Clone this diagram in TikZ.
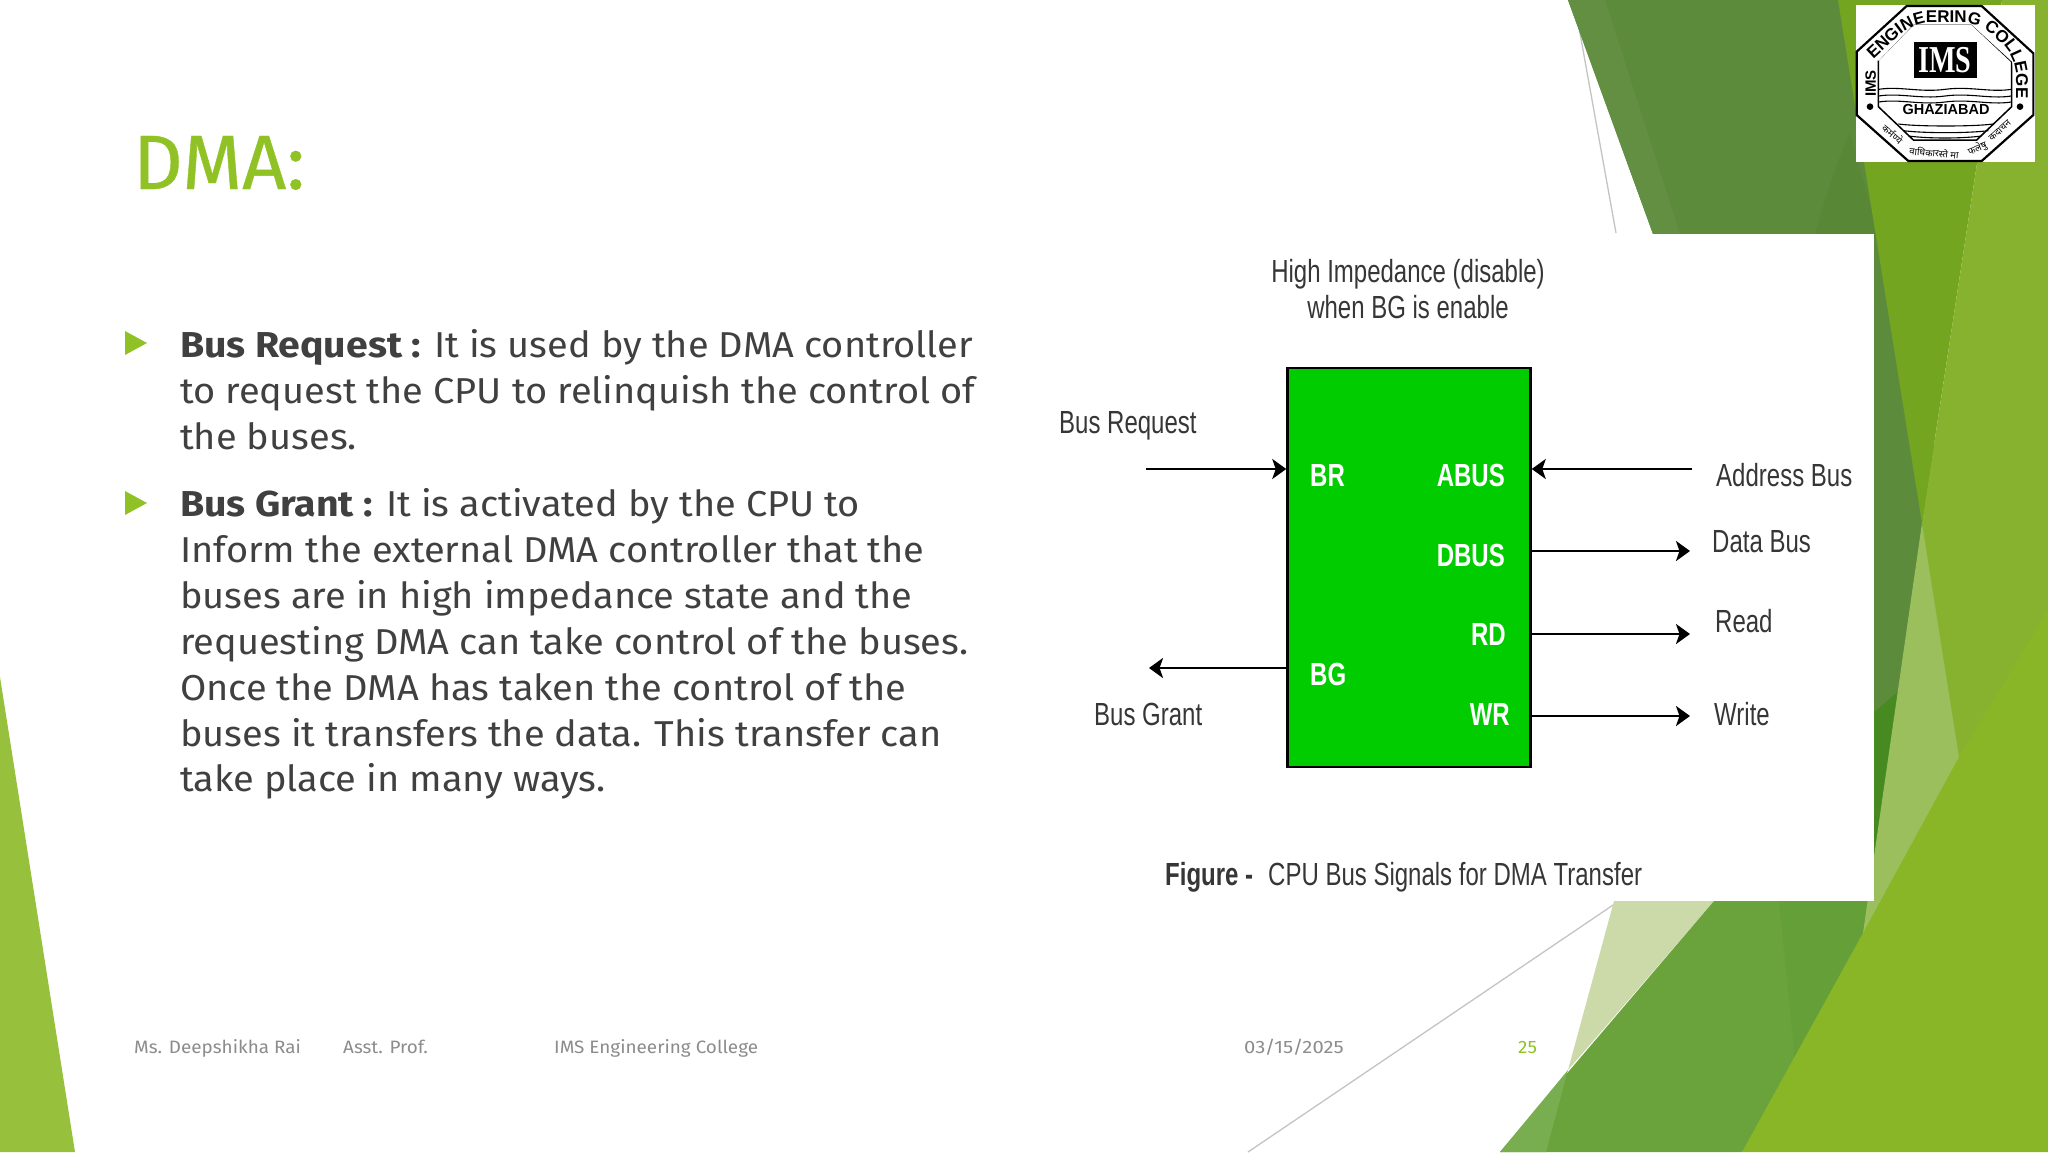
\documentclass[tikz,border=0pt]{standalone}
\usepackage{fontspec}
\usetikzlibrary{arrows.meta,decorations.text}
\setmainfont[FakeStretch=1.055,BoldFeatures={FakeStretch=1.09}]{Fira Sans}
\newfontfamily\ttlf[FakeBold=0.5]{Fira Sans}
\newfontfamily\datef[FakeStretch=1.13]{Fira Sans}
\newfontfamily\figf[FakeStretch=0.75]{Liberation Sans}
\newfontfamily\logof{Liberation Sans}
\newfontfamily\imsf[FakeStretch=0.74]{Liberation Serif}
\newfontfamily\devf[Script=Devanagari]{Noto Sans}
\definecolor{accent}{HTML}{90C226}
\definecolor{ink}{HTML}{404040}
\definecolor{foot}{HTML}{8C8C8C}
\definecolor{figink}{HTML}{363636}
\definecolor{leftg}{HTML}{97C13D}
\definecolor{topdark}{HTML}{5D8B3C}
\definecolor{topdarker}{HTML}{588836}
\definecolor{toplight}{HTML}{628F42}
\definecolor{stripdark}{HTML}{488A22}
\definecolor{olive}{HTML}{74A520}
\definecolor{bright}{HTML}{87B22F}
\definecolor{brightest}{HTML}{89B626}
\definecolor{palemid}{HTML}{9ABF5C}
\definecolor{midg}{HTML}{6AA23C}
\definecolor{midgd}{HTML}{659F37}
\definecolor{paleg}{HTML}{CCDAA9}
\definecolor{stripl}{HTML}{78AE50}
\definecolor{hair}{HTML}{C4C4C4}
\definecolor{boxg}{HTML}{00CC00}
\tikzset{
  txt/.style={anchor=base west,inner sep=0pt,text=ink,font=\fontsize{36}{46}\selectfont},
  ttl/.style={anchor=base west,inner sep=0pt,text=accent,font=\ttlf\fontsize{77}{90}\selectfont},
  ftr/.style={anchor=base west,inner sep=0pt,text=foot,font=\fontsize{17.9}{22}\selectfont},
  lab/.style={anchor=base west,inner sep=0pt,text=figink,font=\figf\fontsize{32}{36}\selectfont},
  sig/.style={anchor=base west,inner sep=0pt,text=white,font=\figf\bfseries\fontsize{32}{36}\selectfont},
  bul/.style={fill=accent,draw=none},
  wire/.style={draw=black,line width=2.6pt,-{Stealth[length=14pt,width=20pt,inset=3.5pt]}},
  logotx/.style={inner sep=0pt,text=black,font=\logof\bfseries\fontsize{17}{20}\selectfont},
  logoln/.style={draw=black,line width=1.1pt},
  hindi/.style={inner sep=0pt,font=\devf\bfseries\fontsize{9.5}{10}\selectfont}
}
\begin{document}
\begin{tikzpicture}[x=1pt,y=-1pt]
\useasboundingbox (0,0) rectangle (2048,1152);
\fill[white] (0,0) rectangle (2048,1152);
% left wedge
\fill[leftg] (0,677) -- (75,1152) -- (0,1152) -- cycle;
% hair lines
\draw[hair,line width=1.3pt] (1574,0) -- (1616,233);
\draw[hair,line width=1.3pt] (1619,901) -- (1248,1152);
% upper right
\fill[topdark] (1568,0) -- (1880,0) -- (1960,650) -- (1874,900) -- (1653,234) -- cycle;
\fill[toplight] (1568,0) -- (1605,0) -- (1680,234) -- (1653,234) -- cycle;
\fill[topdarker] (1850,133) -- (1880,240) -- (1815,234) .. controls (1825,200) and (1835,165) .. (1850,133) -- cycle;
\fill[stripdark] (1874,712) -- (1900,690) -- (1885,853) -- (1874,853) -- cycle;
\fill[olive] (1838,0) -- (2002,0) -- (1922,523) -- cycle;
% lower right
\fill[paleg] (1614,901) -- (1714,901) -- (1568,1070) -- cycle;
\fill[midg] (1714,901) -- (1900,901) -- (1900,1000) -- (1742,1152) -- (1500,1152) -- cycle;
\fill[midgd] (1779,901) -- (1900,901) -- (1900,940) -- (1795,1060) -- cycle;
\fill[stripl] (1568,1070) -- (1546,1152) -- (1500,1152) -- cycle;
\fill[palemid] (1922,523) -- (1970,757) -- (1890,930) -- (1863,933) -- cycle;
\fill[bright] (2002,0) -- (2048,0) -- (2048,620) -- (1959,757) -- (1922,523) -- cycle;
\fill[brightest] (2048,610) -- (2048,1152) -- (1742,1152) -- (1863,933) -- (1959,757) -- cycle;
% pasted figure
\fill[white] (1040,234) rectangle (1874,901);
% logo
\begin{scope}[shift={(1850,0)},x=0.33333pt,y=-0.33333pt]
\fill[white] (17,15) rectangle (555,485);
\draw[black,line width=2.2pt] (170,18) -- (395,18) -- (550,160) -- (550,345) -- (395,483) -- (175,483) -- (20,345) -- (20,155) -- cycle;
\draw[logoln,line width=1.5pt] (190,72) -- (365,72) -- (485,185) -- (485,320) -- (380,420) -- (190,420) -- (85,320) -- (85,180) -- cycle;
\fill[black] (192,125) rectangle (380,235);
\node[inner sep=0pt,text=white,font=\imsf\bfseries\fontsize{38}{40}\selectfont] (imsmark) at (285,181) {IMS};
\foreach \yy in {268,288,306}{
  \draw[logoln] (86,\yy) .. controls (150,\yy-10) and (210,\yy+10) .. (285,\yy) .. controls (360,\yy-10) and (420,\yy+10) .. (484,\yy);
}
\foreach \yy/\xa/\xb in {372/145/430,392/160/415,408/175/395}{
  \draw[logoln] (\xa,\yy) .. controls (\xa+60,\yy+8) and (\xb-60,\yy+8) .. (\xb,\yy);
}
\node[logotx,font=\logof\bfseries\fontsize{14.5}{16}\selectfont] (ghz) at (288,328) {GHAZIABAD};
\fill[white] (48,175) -- (192,66) -- (382,66) -- (498,176) -- (530,296) -- (500,296) -- (487,186) -- (365,74) -- (190,74) -- (86,182) -- cycle;
\path[rounded corners=18pt,decorate,decoration={text along path,text align={fit to path},
  text={|\logof\bfseries\fontsize{17}{20}\selectfont|ENGINEERING COLLEGE}}]
  (70,178) -- (188,68) -- (385,68) -- (498,170) -- (498,295);
\node[logotx,rotate=90,font=\logof\bfseries\fontsize{15}{16}\selectfont] (imsv) at (62,250) {IMS};
\fill[black] (60,320) circle (10);
\fill[black] (510,320) circle (10);
\node[hindi,rotate=-40] (hia) at (128,402) {कर्मण्ये};
\node[hindi,rotate=-5] (hib) at (252,458) {वाधिकारस्ते मा};
\node[hindi,rotate=22] (hic) at (382,446) {फलेषु};
\node[hindi,rotate=42] (hid) at (450,392) {कदाचन};
\end{scope}
% slide text
\node[ttl] (title) at (133,189) {DMA:};
\fill[bul] (125,331) -- (147,343) -- (125,355) -- cycle;
\fill[bul] (125,491) -- (147,503) -- (125,515) -- cycle;
\node[txt] (l1) at (180,357) {\textbf{Bus Request :} It is used by the DMA controller};
\node[txt] (l2) at (180,403) {to request the CPU to relinquish the control of};
\node[txt] (l3) at (180,449) {the buses.};
\node[txt] (m1) at (180,516) {\textbf{Bus Grant :} It is activated by the CPU to};
\node[txt] (m2) at (180,562) {Inform the external DMA controller that the};
\node[txt] (m3) at (180,608) {buses are in high impedance state and the};
\node[txt] (m4) at (180,654) {requesting DMA can take control of the buses.};
\node[txt] (m5) at (180,700) {Once the DMA has taken the control of the};
\node[txt] (m6) at (180,746) {buses it transfers the data. This transfer can};
\node[txt] (m7) at (180,791) {take place in many ways.};
\node[ftr] (f1) at (134,1053) {Ms. Deepshikha Rai};
\node[ftr] (f2) at (343,1053) {Asst. Prof.};
\node[ftr] (f3) at (554,1053) {IMS Engineering College};
\node[ftr,font=\datef\fontsize{17.9}{22}\selectfont] (f4) at (1244,1053) {03/15/2025};
\node[ftr,text=accent] (f5) at (1518,1053) {25};
% figure
\node[draw=black,line width=2.5pt,fill=boxg,minimum width=243pt,minimum height=399pt,inner sep=0pt] (dma) at (1409,567.5) {};
\node[lab,anchor=base] (hi1) at (1408,282) {High Impedance (disable)};
\node[lab,anchor=base] (hi2) at (1408,318) {when BG is enable};
\node[lab] (busreq) at (1059,433) {Bus Request};
\node[lab] (busgr) at (1094,725) {Bus Grant};
\node[lab] (addr) at (1716,486) {Address Bus};
\node[lab] (data) at (1712,552) {Data Bus};
\node[lab] (rdl) at (1715,632) {Read};
\node[lab] (wrl) at (1714,725) {Write};
\node[sig] (br) at (1310,486) {BR};
\node[sig] (bg) at (1310,685) {BG};
\node[sig,anchor=base east] (abus) at (1505,486) {ABUS};
\node[sig,anchor=base east] (dbus) at (1505,566) {DBUS};
\node[sig,anchor=base east] (rd) at (1506,645) {RD};
\node[sig,anchor=base east] (wr) at (1510,725) {WR};
\node[lab,font=\figf\bfseries\fontsize{32}{36}\selectfont] (figa) at (1165,885) {Figure -};
\node[lab] (figb) at (1268,885) {CPU Bus Signals for DMA Transfer};
\coordinate (brend) at (1146,469);
\coordinate (bgend) at (1149,668);
\coordinate (aend) at (1692,469);
\coordinate (dend) at (1690,551);
\coordinate (rend) at (1690,634);
\coordinate (wend) at (1690,716);
\draw[wire] (brend) -- (brend -| dma.west);
\draw[wire] (aend) -- (aend -| dma.east);
\draw[wire] (dend -| dma.east) -- (dend);
\draw[wire] (rend -| dma.east) -- (rend);
\draw[wire] (wend -| dma.east) -- (wend);
\draw[wire] (bgend -| dma.west) -- (bgend);
\end{tikzpicture}
\end{document}
